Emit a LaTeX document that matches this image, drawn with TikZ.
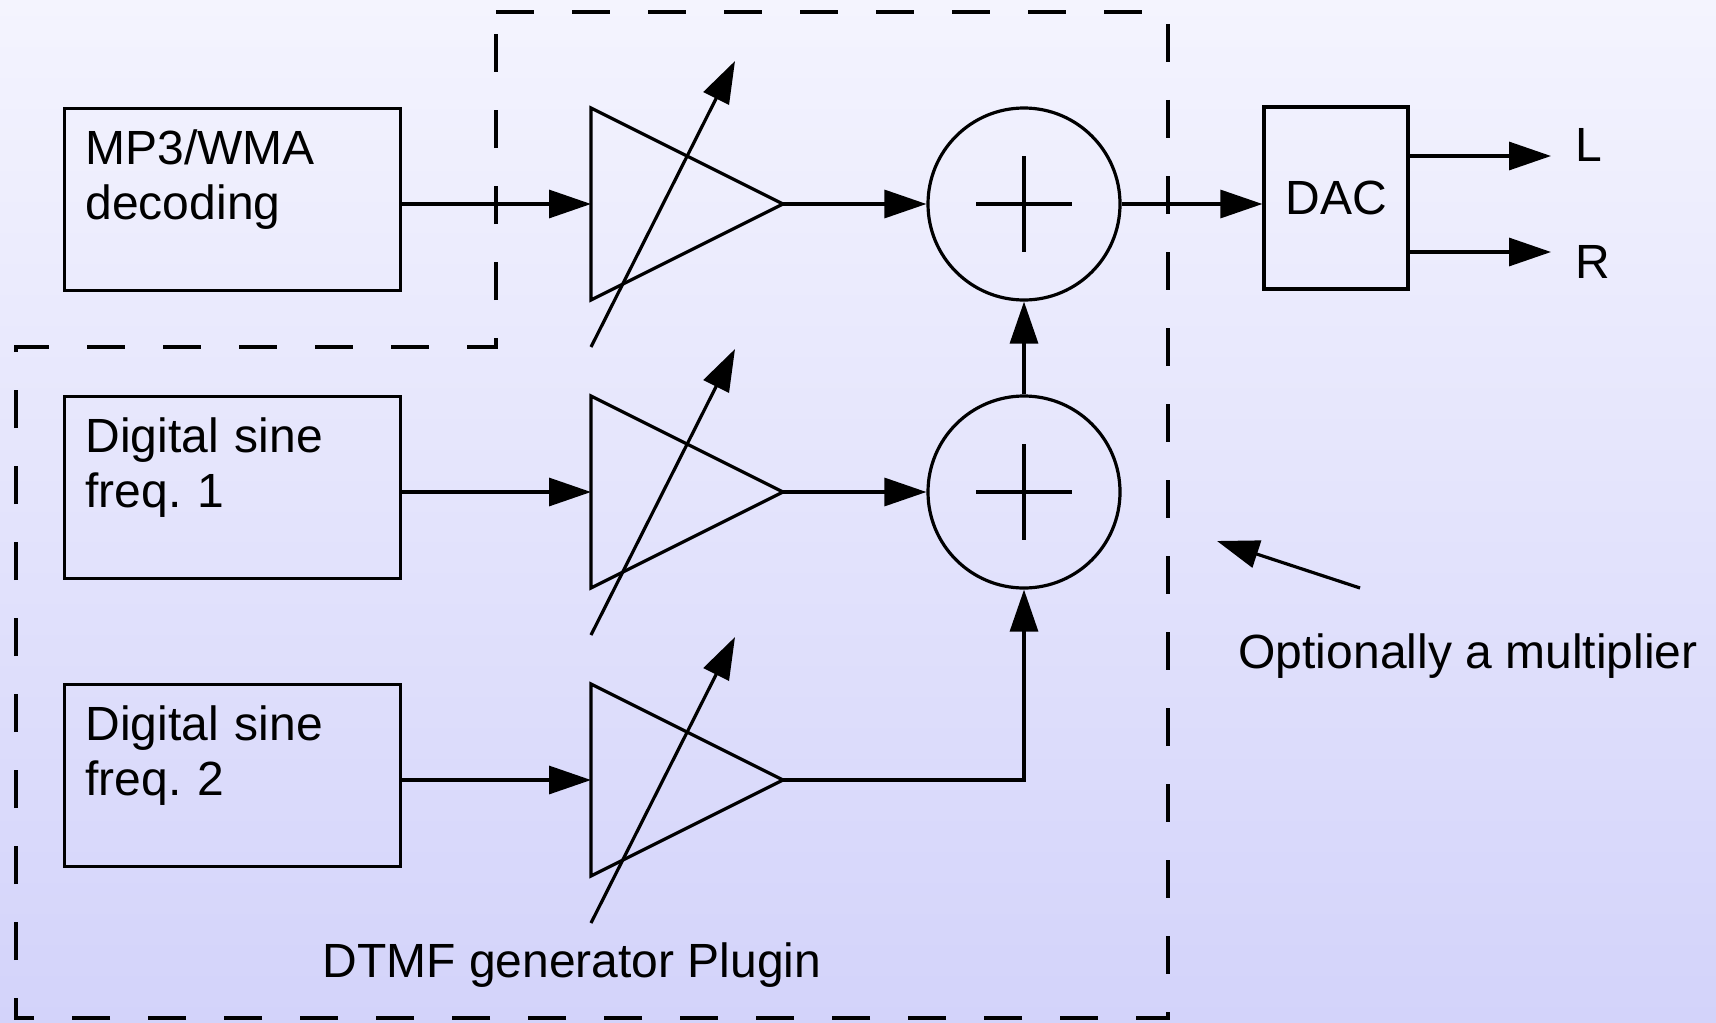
\documentclass[tikz,border=0pt]{standalone}
\usepackage{fontspec}
\setmainfont{Liberation Sans}
\usetikzlibrary{arrows.meta}
\frenchspacing
\definecolor{bgtop}{RGB}{244,244,254}
\definecolor{bgbot}{RGB}{211,211,250}
\tikzset{
  sig/.style={-{Triangle[length=21pt,width=14pt]}},
  srcbox/.style={draw, rectangle, anchor=north west, inner xsep=10.5pt, inner ysep=0pt,
    text width=147pt, text height=28pt, text depth=63pt, align=left},
  dacbox/.style={draw, rectangle, minimum width=72pt, minimum height=91pt, inner sep=0pt},
  sumnode/.style={draw, circle, minimum size=96pt, inner sep=0pt},
  plugin/.style={dash pattern=on 19pt off 19pt},
  lbl/.style={inner sep=0pt}
}
\begin{document}
\begin{tikzpicture}[x=0.5pt, y=-0.5pt, line width=1.6pt, font=\fontsize{24pt}{27.5pt}\selectfont]
  \shade[top color=bgtop, bottom color=bgbot] (0,0) rectangle (1716,1022);
  \useasboundingbox (0,0) rectangle (1716,1022);

  % plugin outline
  \draw[plugin] (496,12) -- (1168,12) -- (1168,1018) -- (16,1018) -- (16,347) -- (496,347) -- cycle;

  \node[srcbox] (mp3) at (63,107) {MP3/WMA\\decoding};
  \node[srcbox] (sine1) at (63,395) {Digital sine\\freq. 1};
  \node[srcbox] (sine2) at (63,683) {Digital sine\\freq. 2};

  % variable gain stages
  \foreach \i in {0,1,2} {
    \coordinate (in\i) at (591,204+288*\i);
    \coordinate (out\i) at (783,204+288*\i);
    \draw (591,108+288*\i) -- (out\i) -- (591,300+288*\i) -- cycle;
    \draw[sig] (591,347+288*\i) -- (735,61+288*\i);
  }

  \node[sumnode] (sum1) at (1024,204) {};
  \node[sumnode] (sum2) at (1024,492) {};
  \foreach \s in {sum1,sum2}
    \draw (\s.center) +(-48,0) -- +(48,0) +(0,-48) -- +(0,48);

  \node[dacbox] (dac) at (1336,198) {DAC};

  \foreach \from/\to in {mp3/in0,sine1/in1,sine2/in2}
    \draw[sig] (\from.east |- \to) -- (\to);
  \draw[sig] (out0) -- (sum1);
  \draw[sig] (out1) -- (sum2);
  \draw[sig] (out2) -| (sum2);
  \draw[sig] (sum2) -- (sum1);
  \draw[sig] (sum1) -- (dac.west |- sum1);

  % outputs
  \coordinate (outL) at (1551,156);
  \coordinate (outR) at (1551,252);
  \draw[sig] (dac.east |- outL) -- (outL);
  \draw[sig] (dac.east |- outR) -- (outR);
  \node[lbl, anchor=base west] (chL) at (1574,161) {L};
  \node[lbl, anchor=base west] (chR) at (1574,278) {R};

  % note
  \coordinate (ptr) at (1217,541);
  \coordinate (ptrtail) at (1360,588);
  \draw[sig] (ptrtail) -- (ptr);
  \node[lbl, anchor=base west] (note) at (1237,668) {Optionally a multiplier};
  \node[lbl, anchor=base] (plugintext) at (572,977) {DTMF generator Plugin};
\end{tikzpicture}
\end{document}
